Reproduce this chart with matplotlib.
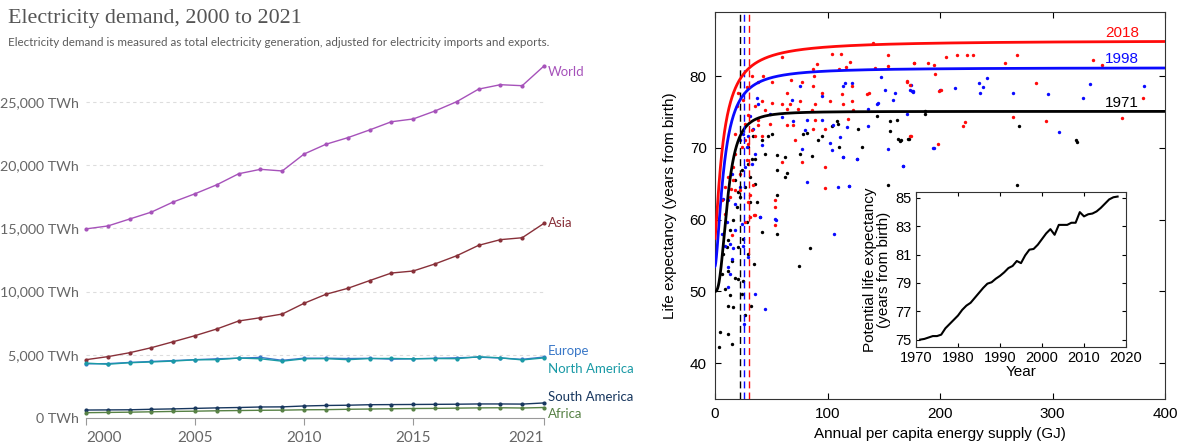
import numpy as np
import matplotlib.pyplot as plt

plt.rcParams['font.family'] = ['Lato', 'DejaVu Sans']

# ---- electricity demand by region (TWh) ----
years = list(range(2000, 2022))
world = [14950, 15180, 15730, 16280, 17080, 17730, 18440, 19310, 19660, 19530, 20870,
         21640, 22160, 22770, 23420, 23640, 24270, 25010, 26000, 26350, 26270, 27830]
asia = [4610, 4850, 5160, 5560, 6030, 6510, 7040, 7670, 7930, 8220, 9070,
        9780, 10250, 10860, 11460, 11620, 12180, 12830, 13650, 14100, 14250, 15390]
europe = [4280, 4300, 4390, 4470, 4540, 4610, 4680, 4730, 4790, 4560, 4730,
          4730, 4700, 4720, 4650, 4680, 4720, 4760, 4810, 4740, 4640, 4820]
north_america = [4340, 4250, 4370, 4430, 4500, 4600, 4610, 4740, 4680, 4490, 4680,
                 4690, 4610, 4700, 4710, 4680, 4700, 4690, 4840, 4760, 4590, 4750]
south_america = [630, 640, 650, 690, 720, 760, 800, 830, 870, 880, 950,
                 990, 1010, 1050, 1060, 1070, 1080, 1090, 1110, 1110, 1100, 1190]
africa = [420, 440, 460, 490, 520, 540, 570, 590, 610, 620, 650,
          660, 690, 710, 730, 750, 760, 780, 800, 810, 790, 830]

regions = ['World', 'Asia', 'Europe', 'North America', 'South America', 'Africa']
region_values = [world, asia, europe, north_america, south_america, africa]
region_colors = ['#a652ba', '#883039', '#3a78c8', '#1a9aa6', '#18375f', '#578145']
label_offsets = [-4, 0, 4, -8, 4, -5]

year_ticks = [2000, 2005, 2010, 2015, 2021]
twh_ticks = [0, 5000, 10000, 15000, 20000, 25000]

# ---- life expectancy vs energy supply ----
fit_years = ['1971', '1998', '2018']
fit_colors = ['black', '#0a0aff', '#ff0a0a']
fit_l0 = [50.0, 53.5, 57.4]
fit_lmax = [75.1, 81.2, 85.0]
fit_e50 = [11.0, 8.0, 7.5]
fit_n = [2.6, 1.6, 1.3]
threshold_e = [22.2, 25.8, 30.3]
label_l = [76.3, 82.4, 86.05]

e_2018 = [140.7, 104.3, 112, 153.5, 59.3, 91, 120, 154, 177, 189.6, 87.4, 110, 116, 142, 33.2, 43,
          87.7, 67.6, 38.5, 50.4, 77, 87.4, 121.5, 171, 173, 63.7, 94.8, 112.6, 134.8, 136.9, 41.5,
          50.4, 59.3, 66.7, 75.6, 88.9, 102.2, 113.5, 121.5, 35.6, 44.4, 63.7, 74, 86, 123, 29.6,
          38.5, 48.9, 63.7, 69.6, 88.9, 118.5, 32.6, 38.5, 87.4, 97.8, 173.3, 26.7, 35.6, 41.5, 71.1,
          17.8, 23.7, 29.6, 97.8, 59.3, 77, 16.3, 22.2, 34.1, 97.8, 16.3, 14.2, 22.2, 29.6, 53.3,
          35.6, 26.7, 53.3, 13.3, 31.1, 8.9, 20.7, 25.2, 28.1, 19.3, 26.7, 17.8, 11.9, 8.9, 5.9,
          28.1, 17.8, 31.1, 171, 195, 195.3, 205.3, 214.8, 223.7, 229, 258, 268.7, 285.3, 336.3,
          344.3, 380.7, 199.4, 200.9, 176.9, 265.2, 294.2, 361.5, 222, 220.4, 174.5, 198.2, 53.3,
          35, 14.8]
le_2018 = [84.7, 83.1, 83.1, 82.9, 82.7, 81.7, 82.0, 81.4, 81.8, 81.8, 81.0, 81.0, 81.3, 81.1, 80.0,
           80.0, 80.1, 79.5, 79.2, 79.2, 79.2, 78.7, 78.6, 79.2, 78.8, 77.6, 77.6, 77.5, 77.5, 77.6,
           76.5, 76.3, 76.1, 76.2, 76.5, 76.2, 76.5, 76.2, 76.5, 75.8, 75.3, 75.5, 75.5, 75.3, 75.3,
           74.6, 73.9, 73.4, 73.2, 73.2, 73.9, 74.0, 72.5, 73.2, 72.7, 72.7, 71.7, 71.1, 71.6, 71.6,
           71.1, 69.2, 70.2, 70.6, 67.4, 68.1, 68.1, 67.4, 66.4, 64.8, 64.4, 65.5, 64.3, 64.1, 62.5,
           61.8, 60.6, 59.7, 62.7, 63.2, 63.4, 60.8, 77.6, 76.7, 78.5, 75.8, 73.4, 72.0, 66.0, 64.6,
           62.7, 68.3, 64.1, 60.4, 79.3, 81.5, 80.3, 82.7, 82.9, 82.9, 83.0, 81.9, 82.9, 79.0, 82.2,
           81.6, 77.0, 77.9, 78.1, 81.8, 74.3, 73.7, 74.2, 73.6, 73.0, 71.7, 70.6, 59.2, 60.6, 57.8]

e_1998 = [147.3, 115.6, 122, 114, 173.3, 176.3, 160, 151.1, 75.6, 94.8, 68.1, 143.7, 145.2, 136.3,
          158.5, 37, 38.5, 48.9, 59.3, 69.6, 81.5, 94.8, 105.2, 117, 136.3, 154, 80, 111, 102.2, 77,
          103.7, 114, 126, 167.4, 81.5, 109.6, 119.1, 106, 41.5, 29.6, 34.1, 28.1, 35.6, 31.1, 53.3,
          40, 22.2, 26.7, 14.8, 11.9, 10.4, 5.9, 13.3, 14.8, 13.3, 11.9, 35.6, 44.4, 29.6, 25.2, 17.8,
          8.9, 7.4, 23.7, 16.3, 11.9, 26.1, 17.8, 32.6, 22.2, 25.2, 174.2, 175.1, 176.3, 200, 213.3,
          234.4, 238.5, 242, 235.6, 265.2, 296.3, 326.8, 333.3, 381.6, 171, 306, 194, 194.7, 166.8,
          114, 126, 119, 40, 54.2]
le_1998 = [79.9, 79.0, 79.0, 78.6, 78.1, 77.9, 77.6, 78.1, 78.6, 77.2, 76.7, 76.2, 76.3, 75.5, 76.7,
           76.9, 76.2, 74.8, 74.3, 73.7, 73.9, 73.9, 73.2, 72.9, 73.0, 69.9, 72.5, 71.5, 70.7, 69.8,
           69.7, 68.7, 68.5, 67.5, 65.3, 64.6, 64.7, 58.0, 70.4, 71.6, 72.7, 70.2, 69.2, 74.4, 60.1,
           60.4, 64.6, 67.4, 66.4, 62.7, 59.7, 58.0, 56.6, 54.5, 52.4, 50.6, 49.7, 47.5, 54.8, 56.4,
           58.5, 56.4, 62.9, 59.4, 56.0, 53.4, 45.5, 62.2, 67.8, 71.1, 72.0, 78.8, 78.0, 77.8, 78.1,
           78.3, 79.1, 78.5, 79.7, 77.7, 77.6, 77.5, 76.9, 78.9, 78.6, 74.7, 72.2, 70.0, 70.0, 67.5,
           68.7, 68.5, 64.7, 60.4, 60.0]

e_1971 = [143.7, 155.6, 161.5, 186.7, 108.1, 109.6, 103.7, 94.8, 91.9, 127.4, 155.6, 163, 164.4,
          171.9, 110.2, 130.4, 153.5, 81.5, 78.5, 75.6, 86.5, 54.8, 62.2, 54.8, 63.7, 62.2, 44.4,
          50.4, 47.4, 41.5, 35.6, 32.6, 29.6, 54.8, 54.8, 41.5, 84.4, 74.7, 31.1, 37, 28.1, 29.6, 35,
          32, 26.7, 23.7, 17.8, 20.7, 19.3, 16.3, 13.3, 11.9, 10.4, 14.8, 11.9, 17.8, 20.7, 8.9, 13.3,
          11.9, 16.3, 4.4, 11.9, 15.4, 3.6, 23.7, 25.2, 22.2, 26.7, 35.6, 29.6, 34.1, 31.1, 20.7,
          25.2, 5.9, 7.4, 165.3, 172.4, 186.7, 270.2, 320.6, 321.5, 268.4]
le_1971 = [74.4, 73.7, 73.9, 75.1, 73.7, 73.4, 73.1, 71.6, 71.1, 72.7, 72.3, 71.3, 71.0, 71.2, 70.2,
           70.1, 64.8, 72.1, 72.0, 69.2, 68.9, 69.0, 68.8, 66.9, 66.5, 66.0, 69.2, 72.0, 71.6, 71.1,
           68.5, 68.4, 67.8, 63.5, 58.0, 58.3, 56.0, 53.5, 62.5, 62.5, 59.7, 55.2, 53.8, 47.9, 46.7,
           66.9, 65.5, 63.9, 61.8, 59.9, 58.5, 57.1, 56.2, 54.3, 52.9, 51.9, 51.7, 50.3, 49.5, 48.0,
           47.8, 44.3, 44.1, 42.7, 42.3, 49.6, 51.5, 63.2, 64.6, 65.0, 70.2, 71.6, 66.0, 56.2, 57.3,
           52.4, 55.2, 71.1, 71.3, 74.8, 73.0, 71.1, 70.9, 64.9]

# potential life expectancy by year
pot_years = list(range(1971, 2019))
pot_le = [75.0, 75.05, 75.15, 75.25, 75.25, 75.35, 75.8, 76.1, 76.4, 76.7, 77.1, 77.4, 77.6, 77.95,
          78.3, 78.65, 78.95, 79.05, 79.3, 79.5, 79.75, 80.05, 80.2, 80.55, 80.4, 80.95, 81.35, 81.4,
          81.7, 82.1, 82.5, 82.8, 82.4, 83.1, 83.1, 83.1, 83.25, 83.25, 84.0, 83.7, 83.85, 83.9,
          84.05, 84.3, 84.6, 84.9, 85.05, 85.1]

fig = plt.figure(figsize=(11.82, 4.43), dpi=100)

# ================= left: electricity demand =================
ax = fig.add_axes([86 / 1182, 25 / 443, 458 / 1182, 360.5 / 443])
for name, vals, col, off in zip(regions, region_values, region_colors, label_offsets):
    ax.plot(years, vals, color=col, lw=1.0, marker='o', ms=2.0, clip_on=False)
    ax.annotate(name, (years[-1], vals[-1]), xytext=(3, off), textcoords='offset points',
                color=col, fontsize=9.5, va='center', ha='left', annotation_clip=False)
ax.set_xlim(2000, 2021)
ax.set_ylim(0, 28500)
ax.set_yticks(twh_ticks)
ax.set_yticklabels([f'{v:,} TWh' for v in twh_ticks])
ax.set_xticks(year_ticks)
ax.set_xticklabels([str(y) for y in year_ticks])
xl = ax.get_xticklabels()
xl[0].set_ha('left')
xl[-1].set_ha('right')
for v in twh_ticks[1:]:
    ax.axhline(v, color='#dddddd', lw=0.8, ls=(0, (3, 3)), zorder=0)
for s in ['top', 'right', 'left']:
    ax.spines[s].set_visible(False)
ax.spines['bottom'].set_color('#999999')
ax.tick_params(axis='y', length=0, pad=5, labelsize=10.3, labelcolor='#666666')
ax.tick_params(axis='x', length=5, color='#999999', pad=4, labelsize=11, labelcolor='#666666')

fig.text(8 / 1182, 1 - 18 / 443, 'Electricity demand, 2000 to 2021', fontsize=15.8,
         family=['Liberation Serif', 'DejaVu Serif'], color='#555555', va='center')
fig.text(8 / 1182, 1 - 42 / 443,
         'Electricity demand is measured as total electricity generation, adjusted for '
         'electricity imports and exports.', fontsize=8.4, color='#5b5b5b', va='center')

# ================= right: life expectancy vs energy =================
sans = ['Liberation Sans', 'DejaVu Sans']
ax2 = fig.add_axes([715 / 1182, 44 / 443, 450 / 1182, 387.3 / 443])
ax2.scatter(e_1971, le_1971, s=6, color='black', lw=0, zorder=2)
ax2.scatter(e_1998, le_1998, s=6, color='#0a0aff', lw=0, zorder=2)
ax2.scatter(e_2018, le_2018, s=6, color='#ff0a0a', lw=0, zorder=2)

e = np.linspace(0, 400, 2000)
for lab, col, l0, lmax, e50, n, et, ll in zip(fit_years, fit_colors, fit_l0, fit_lmax,
                                              fit_e50, fit_n, threshold_e, label_l):
    curve = l0 + (lmax - l0) * e ** n / (e ** n + e50 ** n)
    ax2.plot(e, curve, color=col, lw=2, zorder=3)
    ax2.axvline(et, color=col, lw=1, ls=(0, (5, 3)), zorder=3)
    ax2.text(362, ll, lab, color=col, fontsize=11, family=sans, ha='center', va='center')

ax2.set_xlim(0, 400)
ax2.set_ylim(35, 89)
ax2.set_xticks([0, 100, 200, 300, 400])
ax2.set_yticks([40, 50, 60, 70, 80])
ax2.tick_params(direction='in', top=True, right=True, length=4, labelsize=11, pad=6)
for lbl in ax2.get_xticklabels() + ax2.get_yticklabels():
    lbl.set_family(sans)
for s in ax2.spines.values():
    s.set_color('#333333')
ax2.set_xlabel('Annual per capita energy supply (GJ)', fontsize=11, family=sans, labelpad=4)
ax2.set_ylabel('Life expectancy (years from birth)', fontsize=11, family=sans, labelpad=9)

# inset: potential life expectancy over time
ax3 = fig.add_axes([916 / 1182, 96.3 / 443, 210 / 1182, 154.4 / 443])
ax3.plot(pot_years, pot_le, color='black', lw=1.5)
ax3.set_xlim(1970, 2020)
ax3.set_ylim(74.5, 85.4)
ax3.set_xticks([1970, 1980, 1990, 2000, 2010, 2020])
ax3.set_yticks([75, 77, 79, 81, 83, 85])
ax3.tick_params(direction='in', top=True, right=True, length=3, labelsize=10.5, pad=3)
for lbl in ax3.get_xticklabels() + ax3.get_yticklabels():
    lbl.set_family(sans)
for s in ax3.spines.values():
    s.set_color('#333333')
ax3.set_xlabel('Year', fontsize=11, family=sans, labelpad=0)
ax3.set_ylabel('Potential life expectancy\n(years from birth)', fontsize=11, family=sans,
               labelpad=3, linespacing=1.0)

fig.savefig('out.png', dpi=100)
